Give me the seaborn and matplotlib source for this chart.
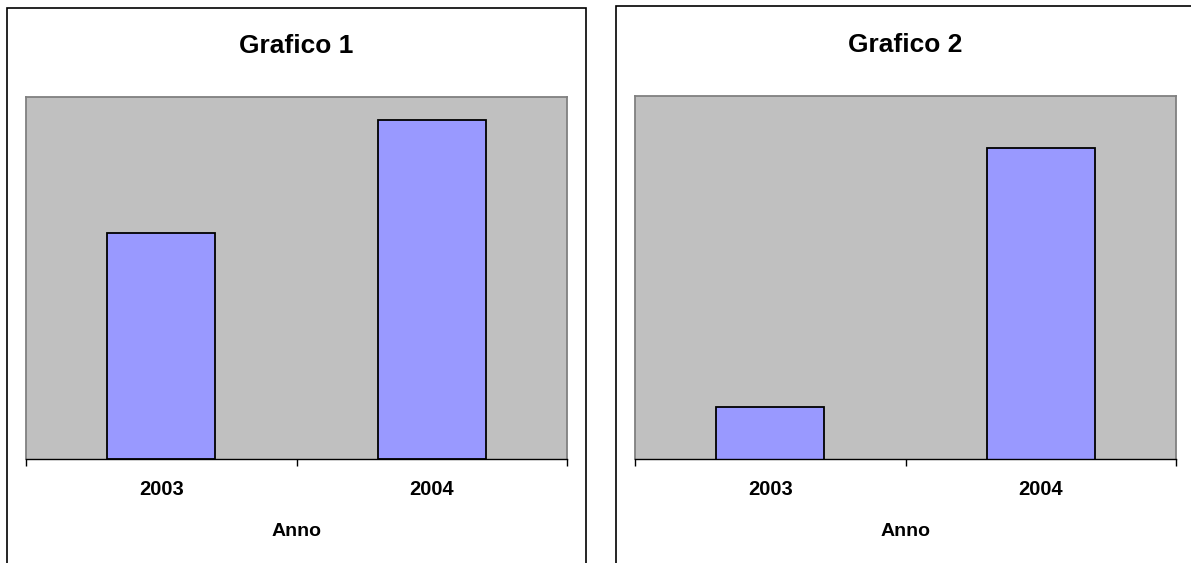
import matplotlib
matplotlib.use("Agg")
import matplotlib.pyplot as plt
from matplotlib.patches import Rectangle
import seaborn as sns
import pandas as pd

# Data
anni = ["2003", "2004"]
valori = [100, 150]
titoli = ["Grafico 1", "Grafico 2"]
limiti_y = [(0, 160), (90, 160)]

sns.set_theme(style="white")
plt.rcParams["font.family"] = ["Liberation Sans", "DejaVu Sans"]
plt.rcParams["font.weight"] = "bold"
plt.rcParams["text.color"] = "black"
plt.rcParams["xtick.color"] = "black"
plt.rcParams["xtick.labelcolor"] = "black"
plt.rcParams["axes.titlecolor"] = "black"

W, H = 1191, 563
fig = plt.figure(figsize=(W / 100, H / 100), dpi=100)
fig.patch.set_facecolor("white")

# Outer chart frames (pixel boxes: left, top, right, bottom)
frames = [(7, 8, 586, 600), (616, 6, 1230, 600)]
for (x0, y0, x1, y1) in frames:
    fig.patches.append(Rectangle((x0 / W, 1 - y1 / H), (x1 - x0) / W, (y1 - y0) / H,
                                 transform=fig.transFigure, fill=False,
                                 edgecolor="black", linewidth=1.2))

# Plot areas (pixel boxes: left, top, right, bottom)
areas = [(26, 97, 567, 459), (635, 96, 1176, 459)]

df = pd.DataFrame({"Anno": anni, "Valore": valori})

for (x0, y0, x1, y1), titolo, ylim in zip(areas, titoli, limiti_y):
    ax = fig.add_axes([x0 / W, 1 - y1 / H, (x1 - x0) / W, (y1 - y0) / H])
    sns.barplot(data=df, x="Anno", y="Valore", ax=ax, color="#9999FF",
                saturation=1, width=0.4, edgecolor="black", linewidth=1.3)
    ax.set_facecolor("#C0C0C0")
    ax.set_ylim(*ylim)
    ax.set_xlim(-0.5, 1.5)
    ax.set_yticks([])
    ax.set_ylabel("")
    ax.set_xlabel("")
    for s in ["top", "left", "right"]:
        ax.spines[s].set_color("#808080")
        ax.spines[s].set_linewidth(1.3)
    ax.spines["bottom"].set_color("black")
    ax.spines["bottom"].set_linewidth(1.0)

    # category boundaries as tick marks, labels centered on the bars
    ax.set_xticks([-0.5, 0.5, 1.5])
    ax.set_xticklabels([])
    ax.set_xticks([0, 1], minor=True)
    ax.set_xticklabels(anni, minor=True, fontsize=14.5, fontweight="bold",
                       color="black")
    ax.tick_params(axis="x", which="major", direction="out", length=5,
                   width=1.0, color="black", bottom=True)
    ax.tick_params(axis="x", which="minor", length=0, pad=15)

    ax.set_title(titolo, fontsize=19, fontweight="bold", pad=31.5, color="black")
    ax.text(0.5, (y1 - 536) / (y1 - y0), "Anno", transform=ax.transAxes,
            ha="center", va="baseline", fontsize=14, fontweight="bold",
            color="black")

fig.savefig("out.png", dpi=100)
